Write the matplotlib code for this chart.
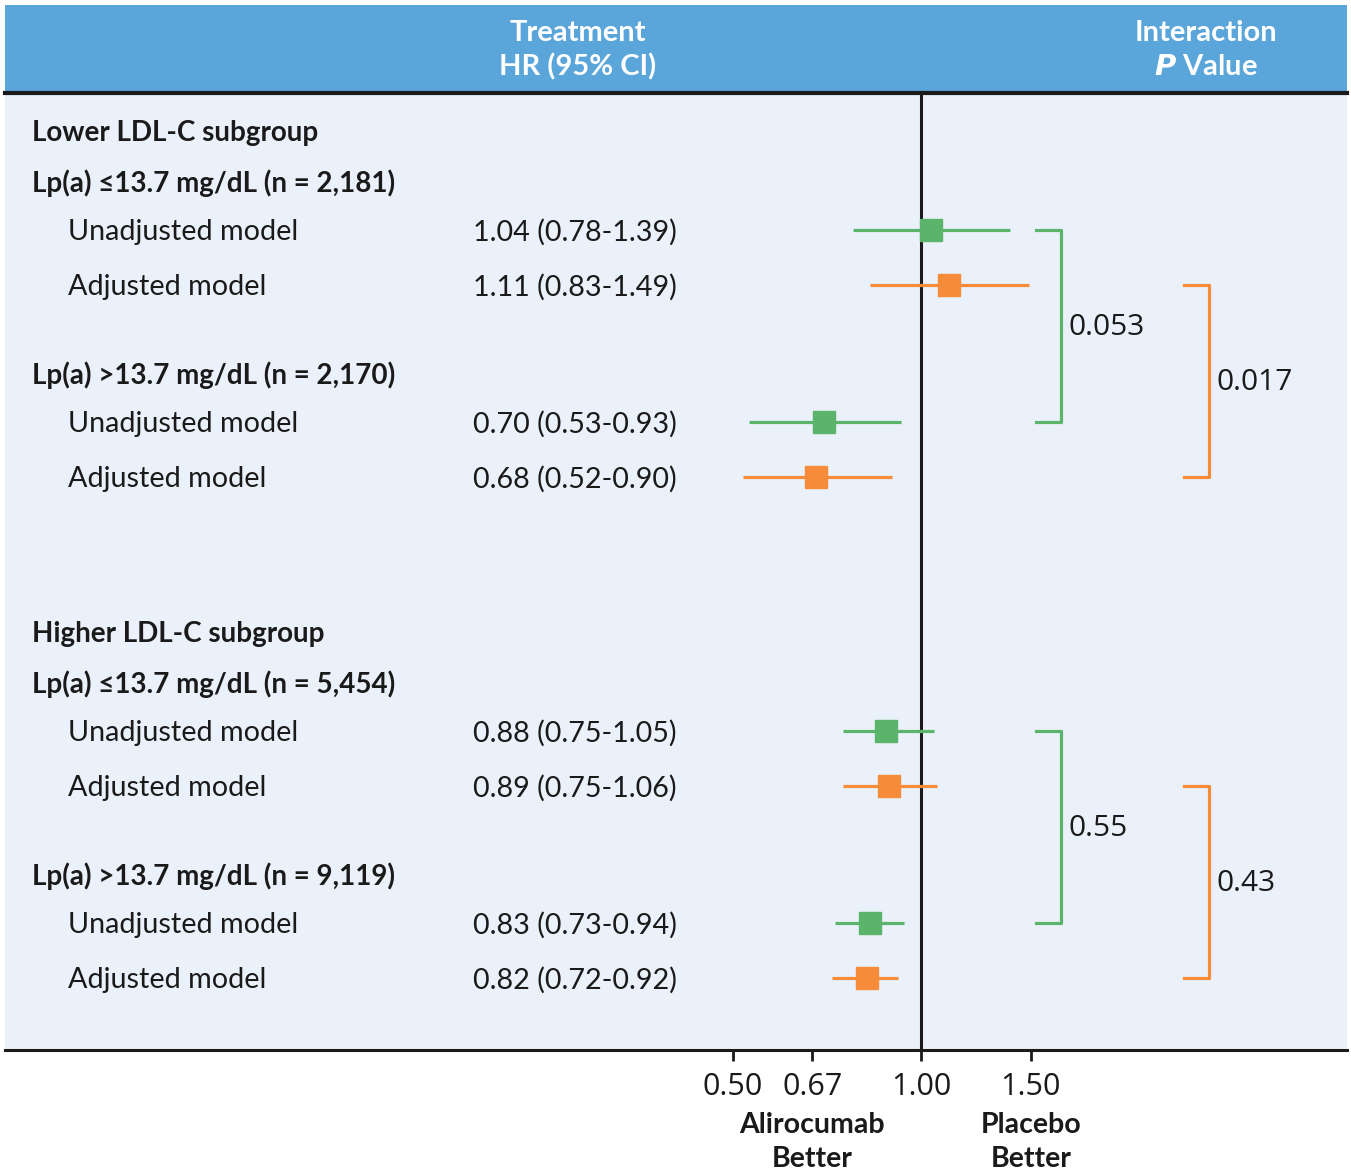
import numpy as np
import matplotlib
matplotlib.use("Agg")
import matplotlib.pyplot as plt
from matplotlib.transforms import blended_transform_factory

plt.rcParams['font.family'] = ['Lato', 'DejaVu Sans']

# data
groups = ["Lower LDL-C subgroup", "Higher LDL-C subgroup"]
strata = ["Lp(a) \u226413.7 mg/dL (n = 2,181)", "Lp(a) >13.7 mg/dL (n = 2,170)",
          "Lp(a) \u226413.7 mg/dL (n = 5,454)", "Lp(a) >13.7 mg/dL (n = 9,119)"]
models = ["Unadjusted model", "Adjusted model"]
hr = [1.04, 1.11, 0.70, 0.68, 0.88, 0.89, 0.83, 0.82]
lo = [0.78, 0.83, 0.53, 0.52, 0.75, 0.75, 0.73, 0.72]
hi = [1.39, 1.49, 0.93, 0.90, 1.05, 1.06, 0.94, 0.92]
p_unadj = ["0.053", "0.55"]
p_adj = ["0.017", "0.43"]
ticks = [0.50, 0.67, 1.00, 1.50]
tick_labels = ["0.50", "0.67", "1.00", "1.50"]

GREEN = "#5cb46c"
ORANGE = "#f68b3a"
HEAD = "#5aa5d9"
PANEL = "#eaf1fa"
DARK = "#1a1a1a"

W, H = 1351, 1172
fig = plt.figure(figsize=(W / 100, H / 100), dpi=100)

# header band
hax = fig.add_axes([5 / W, 1 - 93 / H, 1342 / W, 88 / H])
hax.set_facecolor(HEAD)
hax.set_xticks([]); hax.set_yticks([])
for s in hax.spines.values():
    s.set_visible(False)
for txt, xx, yy in [("Treatment", 578, 0.68), ("HR (95% CI)", 578, 0.30),
                    ("Interaction", 1206, 0.68), (r"$\mathbfit{P}$ Value", 1206, 0.30)]:
    hax.text((xx - 5) / 1342, yy, txt, color="white", fontsize=21, fontweight="bold",
             ha="center", va="center", transform=hax.transAxes)

# main panel
ax = fig.add_axes([5 / W, 1 - 1050 / H, 1342 / W, 957 / H])
ax.set_facecolor(PANEL)
ax.set_xscale("log")
ax.set_xlim(0.0342, 4.81)
ax.set_ylim(1050, 93)
for s in ["left", "right", "top"]:
    ax.spines[s].set_visible(False)
ax.spines["bottom"].set_linewidth(2.2)
ax.spines["bottom"].set_color(DARK)
ax.set_yticks([])
ax.set_xticks(ticks)
ax.set_xticklabels(tick_labels)
ax.minorticks_off()
ax.tick_params(axis="x", length=8, width=2, color=DARK, pad=8, labelsize=22, labelcolor=DARK)
for t in ax.get_xticklabels():
    t.set_fontfamily(["Open Sans", "DejaVu Sans"])
ax.axvline(1.0, color=DARK, lw=2.2, zorder=1)

# header line below band
ax.axhline(93, color=DARK, lw=3, clip_on=False, zorder=5)

tr = blended_transform_factory(ax.transAxes, ax.transData)
def fx(px):
    return (px - 5) / 1342

# row layout (pixel-like units from top)
group_top = [131, 632]
k = 0
for g in range(2):
    y = group_top[g]
    ax.text(fx(32), y + 2, groups[g], transform=tr, fontsize=20, fontweight="bold",
            ha="left", va="center", color=DARK)
    y += 50
    ys_group = []
    for s in range(2):
        ax.text(fx(32), y + 2, strata[2 * g + s], transform=tr, fontsize=20, fontweight="bold",
                ha="left", va="center", color=DARK)
        y += 49
        ys = []
        for m in range(2):
            col = GREEN if m == 0 else ORANGE
            ax.text(fx(68), y + 2, models[m], transform=tr, fontsize=20.7,
                    ha="left", va="center", color=DARK)
            ax.text(fx(575), y + 2, "%.2f (%.2f-%.2f)" % (hr[k], lo[k], hi[k]), transform=tr,
                    fontsize=20.7, ha="center", va="center", color=DARK)
            ax.plot([lo[k], hi[k]], [y, y], color=col, lw=2.3, solid_capstyle="butt", zorder=3)
            ax.plot(hr[k], y, marker="s", ms=15.5, color=col, mec=col, zorder=4)
            ys.append(y)
            k += 1
            y += 55
        ys_group.append(ys)
        y += 33
    # interaction brackets
    for m, (bx, col, lab) in enumerate([(1061, GREEN, p_unadj[g]), (1209, ORANGE, p_adj[g])]):
        y0 = ys_group[0][m]
        y1 = ys_group[1][m]
        ax.plot([fx(bx - 25), fx(bx), fx(bx), fx(bx - 25)], [y0, y0, y1, y1],
                transform=tr, color=col, lw=2.3, zorder=3)
        ax.text(fx(bx + 8), (y0 + y1) / 2 + 2, lab, transform=tr, fontsize=21.5,
                family=["Open Sans", "DejaVu Sans"], ha="left", va="center", color=DARK)

# direction labels below axis
bt = blended_transform_factory(ax.transData, fig.transFigure)
for txt, xv, yp in [("Alirocumab", 0.67, 1125), ("Better", 0.67, 1159),
                    ("Placebo", 1.5, 1125), ("Better", 1.5, 1159)]:
    ax.text(xv, 1 - yp / H, txt, transform=bt, fontsize=20.5, fontweight="bold",
            ha="center", va="center", color=DARK)

fig.savefig("out.png", dpi=100, facecolor="white")
